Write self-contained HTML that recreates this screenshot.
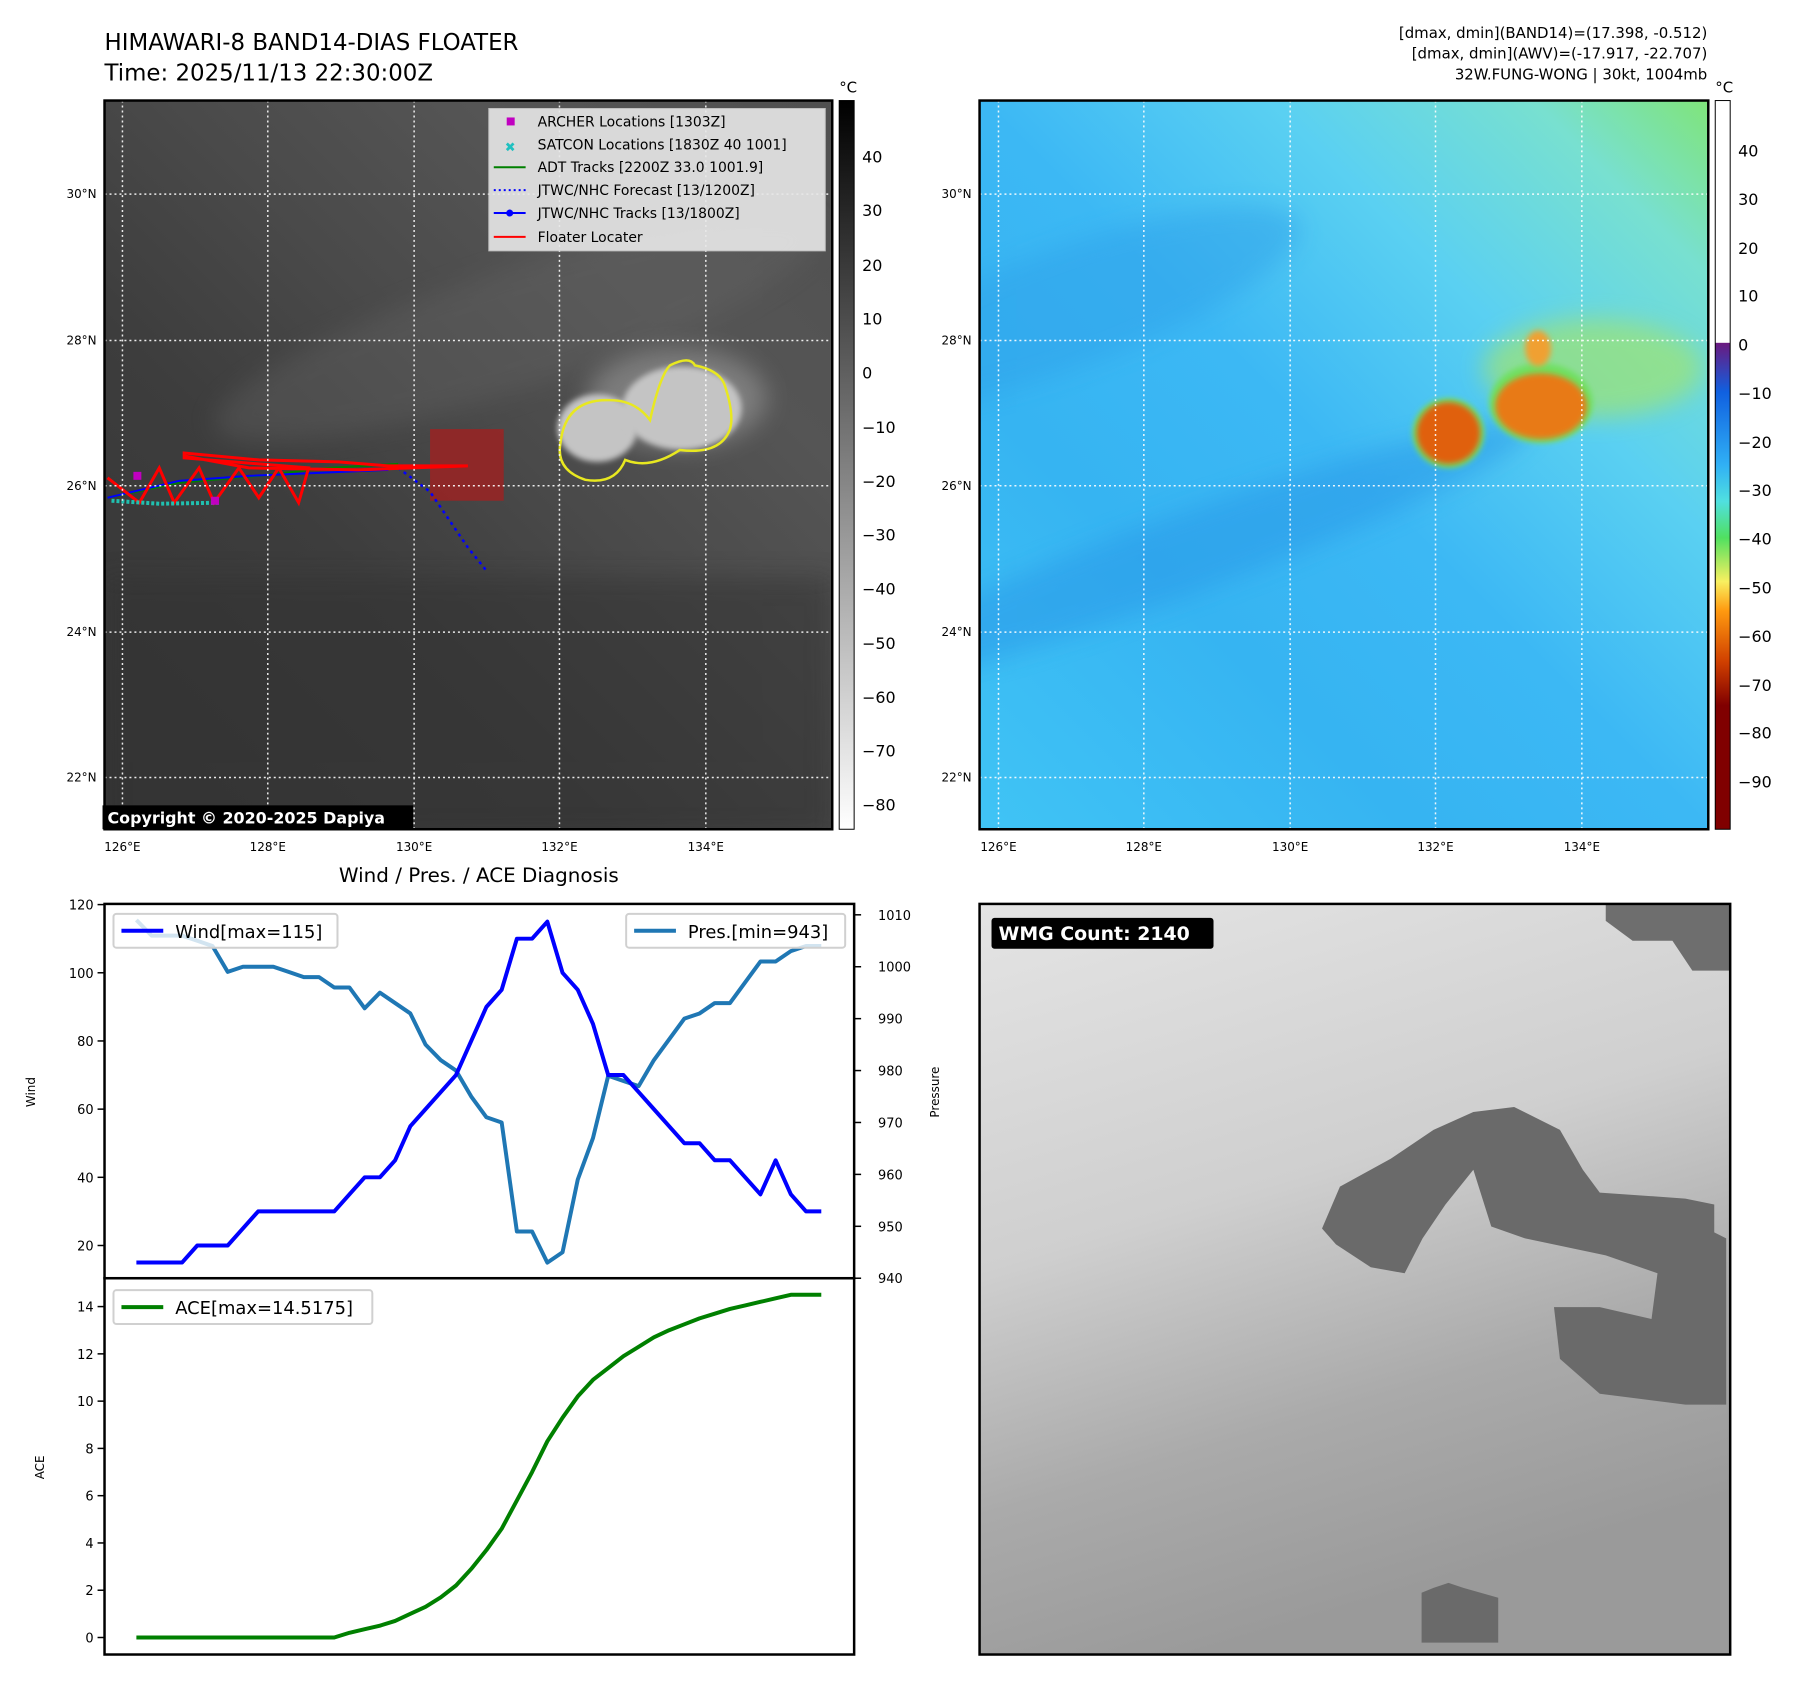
<!DOCTYPE html>
<html><head><meta charset="utf-8"><style>
body{margin:0;background:#fff;font-family:"Liberation Sans",sans-serif}
svg{display:block}
text{font-family:"DejaVu Sans","Liberation Sans",sans-serif}
</style></head><body>
<svg id="root" width="1797" height="1690" viewBox="0 0 1797 1690" xmlns="http://www.w3.org/2000/svg">
<defs>
<linearGradient id="gband" x1="0" y1="1" x2="1" y2="0">
<stop offset="0" stop-color="#353535"/><stop offset="0.35" stop-color="#3d3d3d"/><stop offset="0.55" stop-color="#4a4a4a"/><stop offset="0.75" stop-color="#555"/><stop offset="1" stop-color="#505050"/></linearGradient>
<linearGradient id="cband" x1="0" y1="1" x2="1" y2="0">
<stop offset="0" stop-color="#40c4f5"/><stop offset="0.3" stop-color="#36b4f2"/><stop offset="0.5" stop-color="#3cb8f4"/><stop offset="0.7" stop-color="#5ad0f2"/><stop offset="0.88" stop-color="#78e0d0"/><stop offset="1" stop-color="#80e47a"/></linearGradient>
<linearGradient id="cb1" x1="0" y1="0" x2="0" y2="1"><stop offset="0" stop-color="#000"/><stop offset="1" stop-color="#fff"/></linearGradient>
<linearGradient id="cb2" x1="0" y1="0" x2="0" y2="1">
<stop offset="0" stop-color="#fff"/><stop offset="0.332" stop-color="#fff"/><stop offset="0.333" stop-color="#6a1a80"/><stop offset="0.4" stop-color="#1060e0"/><stop offset="0.5" stop-color="#30b0f5"/><stop offset="0.55" stop-color="#50e0e0"/><stop offset="0.6" stop-color="#50e060"/><stop offset="0.66" stop-color="#f8f060"/><stop offset="0.7" stop-color="#ff9a10"/><stop offset="0.77" stop-color="#d04000"/><stop offset="0.83" stop-color="#800000"/><stop offset="1" stop-color="#800000"/></linearGradient>
<linearGradient id="wmg" x1="0" y1="0" x2="0.3" y2="1"><stop offset="0" stop-color="#e4e4e4"/><stop offset="0.45" stop-color="#cfcfcf"/><stop offset="0.75" stop-color="#aaa"/><stop offset="1" stop-color="#9a9a9a"/></linearGradient>
<filter id="bl" x="-50%" y="-50%" width="200%" height="200%"><feGaussianBlur stdDeviation="12"/></filter>
<filter id="bl2" x="-50%" y="-50%" width="200%" height="200%"><feGaussianBlur stdDeviation="3"/></filter>
<clipPath id="c1"><rect x="105" y="101" width="731" height="732"/></clipPath>
<clipPath id="c2"><rect x="984" y="101" width="732" height="732"/></clipPath>
<clipPath id="c3"><rect x="984" y="908" width="754" height="754"/></clipPath>
</defs>
<g transform="scale(0.9955)">
<!-- titles -->
<text x="105" y="50" font-size="23">HIMAWARI-8 BAND14-DIAS FLOATER</text>
<text x="105" y="81" font-size="23">Time: 2025/11/13 22:30:00Z</text>
<g font-size="15" text-anchor="end">
<text x="1715" y="38">[dmax, dmin](BAND14)=(17.398, -0.512)</text>
<text x="1715" y="59">[dmax, dmin](AWV)=(-17.917, -22.707)</text>
<text x="1715" y="80">32W.FUNG-WONG | 30kt, 1004mb</text>
</g>

<!-- map 1 -->
<g clip-path="url(#c1)">
<rect x="105" y="101" width="731" height="732" fill="url(#gband)"/>
<rect x="105" y="580" width="731" height="260" fill="#333" opacity="0.5" filter="url(#bl)"/>
<ellipse cx="520" cy="330" rx="320" ry="60" fill="#666" opacity="0.35" transform="rotate(-18 520 330)" filter="url(#bl)"/>
<ellipse cx="680" cy="400" rx="90" ry="50" fill="#999" opacity="0.6" filter="url(#bl)"/>
<ellipse cx="600" cy="430" rx="40" ry="34" fill="#c4c4c4" filter="url(#bl2)"/>
<ellipse cx="685" cy="410" rx="60" ry="42" fill="#c4c4c4" filter="url(#bl2)"/>
<path d="M563 445 q5-45 50-43 q25 0 40 20 q10-45 20-55 q20-10 25 0 q25 5 30 20 q10 30 5 45 q-10 25-50 20 q-30 20-55 10 q-10 25-40 20 q-30-10-25-37z" fill="none" stroke="#e8e820" stroke-width="2.5"/>
<rect x="432" y="431" width="74" height="72" fill="#a02020" opacity="0.8"/>
<g fill="none" stroke-width="3">
<polyline points="108,500 180,485 260,478 330,470 400,466" stroke="green" stroke-width="2"/>
<polyline points="108,500 180,483 250,478 320,475 390,472" stroke="blue" stroke-width="2"/>
<polyline points="400,470 432,494 470,550 490,575" stroke="blue" stroke-dasharray="3 4" stroke-width="2.5"/>
<polyline points="108,480 140,505 160,470 175,505 200,470 215,505 240,470 260,500 280,470 300,505 310,470 185,460 185,455 260,462 340,464 390,468 470,468 360,472 250,470 185,458" stroke="red"/>
<polyline points="112,503 160,506 220,505" stroke="#20c0b0" stroke-width="4" stroke-dasharray="3 2"/>
</g>
<rect x="134" y="474" width="8" height="8" fill="#c000c0"/><rect x="212" y="499" width="8" height="8" fill="#c000c0"/>
</g>
<g stroke="#fff" stroke-width="1.5" stroke-dasharray="2 3" opacity="0.9">
<line x1="123" y1="101" x2="123" y2="833"/><line x1="269" y1="101" x2="269" y2="833"/><line x1="416" y1="101" x2="416" y2="833"/><line x1="562" y1="101" x2="562" y2="833"/><line x1="709" y1="101" x2="709" y2="833"/>
<line x1="105" y1="195" x2="836" y2="195"/><line x1="105" y1="342" x2="836" y2="342"/><line x1="105" y1="488" x2="836" y2="488"/><line x1="105" y1="635" x2="836" y2="635"/><line x1="105" y1="781" x2="836" y2="781"/>
</g>
<rect x="105" y="101" width="731" height="732" fill="none" stroke="#000" stroke-width="2.5"/>
<g font-size="14">
<rect x="491" y="109" width="338" height="143" fill="#e8e8e8" opacity="0.9" stroke="#ccc"/>
<rect x="509" y="118" width="8" height="8" fill="#c000c0"/><text x="540" y="127">ARCHER Locations [1303Z]</text>
<text x="507" y="152" fill="#20c0c0" font-size="13" font-weight="bold">✖</text><text x="540" y="150">SATCON Locations [1830Z 40 1001]</text>
<line x1="496" y1="168" x2="528" y2="168" stroke="green" stroke-width="2"/><text x="540" y="173">ADT Tracks [2200Z 33.0 1001.9]</text>
<line x1="496" y1="191" x2="528" y2="191" stroke="blue" stroke-width="2" stroke-dasharray="2 3"/><text x="540" y="196">JTWC/NHC Forecast [13/1200Z]</text>
<line x1="496" y1="214" x2="528" y2="214" stroke="blue" stroke-width="2"/><circle cx="512" cy="214" r="3.5" fill="blue"/><text x="540" y="219">JTWC/NHC Tracks [13/1800Z]</text>
<line x1="496" y1="238" x2="528" y2="238" stroke="red" stroke-width="2"/><text x="540" y="243">Floater Locater</text>
</g>
<rect x="103" y="809" width="312" height="24" fill="#000"/>
<text x="108" y="827" font-size="16" font-weight="bold" fill="#fff">Copyright © 2020-2025 Dapiya</text>
<g font-size="12" text-anchor="end">
<text x="97" y="199">30°N</text><text x="97" y="346">28°N</text><text x="97" y="492">26°N</text><text x="97" y="639">24°N</text><text x="97" y="785">22°N</text></g>
<g font-size="12" text-anchor="middle">
<text x="123" y="855">126°E</text><text x="269" y="855">128°E</text><text x="416" y="855">130°E</text><text x="562" y="855">132°E</text><text x="709" y="855">134°E</text></g>
<rect x="843" y="101" width="15" height="732" fill="url(#cb1)" stroke="#000"/>
<text x="852" y="93" font-size="15" text-anchor="middle">°C</text>
<g font-size="16">
<text x="866" y="163">40</text><text x="866" y="217">30</text><text x="866" y="272">20</text><text x="866" y="326">10</text><text x="866" y="380">0</text><text x="866" y="435">−10</text><text x="866" y="489">−20</text><text x="866" y="543">−30</text><text x="866" y="597">−40</text><text x="866" y="652">−50</text><text x="866" y="706">−60</text><text x="866" y="760">−70</text><text x="866" y="814">−80</text></g>

<!-- map 2 -->
<g clip-path="url(#c2)">
<rect x="984" y="101" width="732" height="732" fill="url(#cband)"/>
<ellipse cx="1180" cy="560" rx="380" ry="40" fill="#2a9ae8" opacity="0.55" transform="rotate(-20 1180 560)" filter="url(#bl)"/>
<ellipse cx="1070" cy="310" rx="250" ry="60" fill="#2f9fe8" opacity="0.45" transform="rotate(-20 1070 310)" filter="url(#bl)"/>
<ellipse cx="1600" cy="370" rx="110" ry="50" fill="#a0e470" opacity="0.7" filter="url(#bl)"/>
<ellipse cx="1455" cy="435" rx="36" ry="35" fill="#70e060" filter="url(#bl2)"/>
<ellipse cx="1548" cy="405" rx="52" ry="40" fill="#70e060" filter="url(#bl2)"/>
<ellipse cx="1455" cy="435" rx="32" ry="31" fill="#e06010" filter="url(#bl2)"/>
<ellipse cx="1548" cy="408" rx="46" ry="33" fill="#e87a18" filter="url(#bl2)"/>
<ellipse cx="1545" cy="350" rx="13" ry="18" fill="#f0a030" filter="url(#bl2)"/>
</g>
<g stroke="#fff" stroke-width="1.5" stroke-dasharray="2 3" opacity="0.9">
<line x1="1003" y1="101" x2="1003" y2="833"/><line x1="1149" y1="101" x2="1149" y2="833"/><line x1="1296" y1="101" x2="1296" y2="833"/><line x1="1442" y1="101" x2="1442" y2="833"/><line x1="1589" y1="101" x2="1589" y2="833"/>
<line x1="984" y1="195" x2="1716" y2="195"/><line x1="984" y1="342" x2="1716" y2="342"/><line x1="984" y1="488" x2="1716" y2="488"/><line x1="984" y1="635" x2="1716" y2="635"/><line x1="984" y1="781" x2="1716" y2="781"/>
</g>
<rect x="984" y="101" width="732" height="732" fill="none" stroke="#000" stroke-width="2.5"/>
<g font-size="12" text-anchor="end">
<text x="976" y="199">30°N</text><text x="976" y="346">28°N</text><text x="976" y="492">26°N</text><text x="976" y="639">24°N</text><text x="976" y="785">22°N</text></g>
<g font-size="12" text-anchor="middle">
<text x="1003" y="855">126°E</text><text x="1149" y="855">128°E</text><text x="1296" y="855">130°E</text><text x="1442" y="855">132°E</text><text x="1589" y="855">134°E</text></g>
<rect x="1723" y="101" width="15" height="732" fill="url(#cb2)" stroke="#000"/>
<text x="1732" y="93" font-size="15" text-anchor="middle">°C</text>
<g font-size="16">
<text x="1746" y="157">40</text><text x="1746" y="206">30</text><text x="1746" y="255">20</text><text x="1746" y="303">10</text><text x="1746" y="352">0</text><text x="1746" y="401">−10</text><text x="1746" y="450">−20</text><text x="1746" y="498">−30</text><text x="1746" y="547">−40</text><text x="1746" y="596">−50</text><text x="1746" y="645">−60</text><text x="1746" y="694">−70</text><text x="1746" y="742">−80</text><text x="1746" y="791">−90</text></g>

<!-- WMG panel -->
<g clip-path="url(#c3)">
<rect x="984" y="908" width="754" height="754" fill="url(#wmg)"/>
<polygon points="1328,1234 1346,1192 1397,1164 1440,1135 1480,1117 1521,1112 1567,1135 1590,1175 1607,1198 1693,1204 1722,1210 1722,1238 1734,1244 1734,1411 1693,1411 1607,1400 1567,1365 1561,1313 1607,1313 1659,1325 1665,1279 1613,1261 1532,1244 1498,1232 1480,1175 1452,1210 1429,1244 1411,1279 1377,1273 1342,1250" fill="#6a6a6a"/>
<polygon points="1613,908 1738,908 1738,975 1700,975 1680,945 1640,945 1613,925" fill="#6e6e6e"/>
<polygon points="1428,1600 1440,1595 1455,1590 1470,1595 1505,1605 1505,1650 1428,1650" fill="#6a6a6a"/>
</g>
<rect x="984" y="908" width="754" height="754" fill="none" stroke="#000" stroke-width="2.5"/>
<rect x="996" y="922" width="223" height="31" rx="3" fill="#000"/>
<text x="1003" y="944" font-size="19" font-weight="bold" fill="#fff">WMG Count: 2140</text>

<!-- diagnosis chart -->
<text x="481" y="886" font-size="20" text-anchor="middle">Wind / Pres. / ACE Diagnosis</text>
<g id="chart"></g>
</g>
</svg>
<script>
const timeIndex = [0,1,2,3,4,5,6,7,8,9,10,11,12,13,14,15,16,17,18,19,20,21,22,23,24,25,26,27,28,29,30,31,32,33,34,35,36,37,38,39,40,41,42,43,44,45];
const windValues = [15,15,15,15,20,20,20,25,30,30,30,30,30,30,35,40,40,45,55,60,65,70,80,90,95,110,110,115,100,95,85,70,70,65,60,55,50,50,45,45,40,35,45,35,30,30];
const presValues = [1009,1006,1006,1006,1005,1004,999,1000,1000,1000,999,998,998,996,996,992,995,993,991,985,982,980,975,971,970,949,949,943,945,959,967,979,978,977,982,986,990,991,993,993,997,1001,1001,1003,1004,1004];
const aceValues = [0,0,0,0,0,0,0,0,0,0,0,0,0,0,0.2,0.35,0.5,0.7,1.0,1.3,1.7,2.2,2.9,3.7,4.6,5.8,7.0,8.3,9.3,10.2,10.9,11.4,11.9,12.3,12.7,13.0,13.25,13.5,13.7,13.9,14.05,14.2,14.35,14.5,14.5,14.5];
const windTicks = [20,40,60,80,100,120];
const presTicks = [940,950,960,970,980,990,1000,1010];
const aceTicks = [0,2,4,6,8,10,12,14];

const NS='http://www.w3.org/2000/svg';
const g=document.getElementById('chart');
const L=105,R=858,T1=908,M=1284,B=1662;
const xS=i=>137+(i-timeIndex[0])*(825-137)/(timeIndex[timeIndex.length-1]-timeIndex[0]);
const yW=v=>T1+(120.2-v)*(M-T1)/(120.2-10.4);
const yP=v=>M-(v-940)*(M-T1)/(1012.1-940);
const yA=v=>M+(15.2-v)*(B-M)/(15.2+0.72);
function mk(tag,at,parent){const e=document.createElementNS(NS,tag);for(const k in at)e.setAttribute(k,at[k]);(parent||g).appendChild(e);return e;}
function line(vals,yf,color,name){
  const p=mk('polyline',{points:vals.map((v,i)=>xS(timeIndex[i])+','+yf(v)).join(' '),fill:'none',stroke:color,'stroke-width':4,'stroke-linejoin':'round'});
  
  
}
line(presValues,yP,'#1f77b4','pressure-line');
line(windValues,yW,'#0000ff','wind-line');
line(aceValues,yA,'#008000','ace-line');
function ticks(arr,yf,side,name){
  const tg=mk('g',{'font-size':13,'text-anchor':side==='l'?'end':'start'});
  
  
  arr.forEach(v=>{const y=yf(v);
    if(side==='l'){mk('line',{x1:L-7,x2:L,y1:y,y2:y,stroke:'#000','stroke-width':1.5},tg);const t=mk('text',{x:L-11,y:y+5},tg);t.textContent=v;}
    else{mk('line',{x1:R,x2:R+7,y1:y,y2:y,stroke:'#000','stroke-width':1.5},tg);const t=mk('text',{x:R+24,y:y+5},tg);t.textContent=v;}
  });
}
ticks(windTicks,yW,'l','wind-axis-ticks');
ticks(presTicks,yP,'r','pressure-axis-ticks');
ticks(aceTicks,yA,'l','ace-axis-ticks');
mk('rect',{x:L,y:T1,width:R-L,height:M-T1,fill:'none',stroke:'#000','stroke-width':2.5});
mk('rect',{x:L,y:M,width:R-L,height:B-M,fill:'none',stroke:'#000','stroke-width':2.5});
function lab(txt,x,y,name){const t=mk('text',{x:x,y:y,'font-size':12,'text-anchor':'middle',transform:`rotate(-90 ${x} ${y})`});t.textContent=txt;
  
  }
lab('Wind',35,1097,'wind-axis-title');lab('Pressure',943,1097,'pressure-axis-title');lab('ACE',44,1474,'ace-axis-title');
function legend(x,y,w,color,txt,name){
  const lg=mk('g',{});
  
  
  mk('rect',{x:x,y:y,width:w,height:34,rx:3,fill:'#fff','fill-opacity':0.8,stroke:'#d0d0d0','stroke-width':2},lg);
  mk('line',{x1:x+8,x2:x+50,y1:y+17,y2:y+17,stroke:color,'stroke-width':4},lg);
  const t=mk('text',{x:x+62,y:y+24,'font-size':18},lg);t.textContent=txt;
}
legend(114,918,225,'#0000ff','Wind[max=115]','wind-legend');
legend(629,918,220,'#1f77b4','Pres.[min=943]','pressure-legend');
legend(114,1296,260,'#008000','ACE[max=14.5175]','ace-legend');
</script>
</body></html>
